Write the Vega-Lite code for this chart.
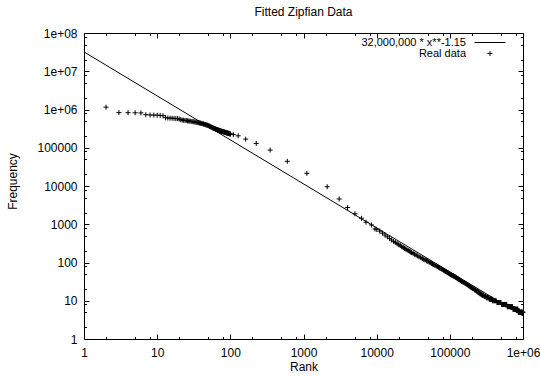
{
  "$schema": "https://vega.github.io/schema/vega-lite/v6.json",
  "width": 439,
  "height": 306,
  "autosize": {"type": "none"},
  "padding": {"left": 84, "top": 33, "right": 17, "bottom": 37},
  "background": "white",
  "title": {"text": "Fitted Zipfian Data", "font": "Liberation Sans", "fontSize": 12, "fontWeight": "normal", "color": "black", "anchor": "middle", "offset": 8},
  "config": {
    "view": {"stroke": null},
    "font": "Liberation Sans",
    "axis": {
      "grid": false,
      "domainColor": "black",
      "domainWidth": 1,
      "tickColor": "black",
      "tickWidth": 1,
      "labelColor": "black",
      "labelFont": "Liberation Sans",
      "labelFontSize": 12,
      "labelFlush": false,
      "labelOverlap": false,
      "labelBound": false,
      "titleColor": "black",
      "titleFont": "Liberation Sans",
      "titleFontSize": 12,
      "titleFontWeight": "normal"
    }
  },
  "datasets": {
    "fit": [
      {"x": 1, "y": 32000000},
      {"x": 1000000, "y": 4.03}
    ],
    "real": [
      {"x": 2, "y": 1150000}, {"x": 3, "y": 830000}, {"x": 4, "y": 825000}, {"x": 5, "y": 820000}, {"x": 6, "y": 815000},
      {"x": 7, "y": 730000}, {"x": 8, "y": 720000}, {"x": 9, "y": 715000}, {"x": 10, "y": 710000}, {"x": 11, "y": 700000},
      {"x": 12, "y": 690000}, {"x": 13, "y": 610000}, {"x": 14, "y": 600000}, {"x": 15, "y": 595000}, {"x": 16, "y": 590000},
      {"x": 17, "y": 585000}, {"x": 18, "y": 580000}, {"x": 19, "y": 575000}, {"x": 20, "y": 565000}, {"x": 21, "y": 540000},
      {"x": 22, "y": 530000}, {"x": 23, "y": 525000}, {"x": 24, "y": 520000}, {"x": 25, "y": 515000}, {"x": 26, "y": 505000},
      {"x": 27, "y": 500000}, {"x": 28, "y": 495000}, {"x": 29, "y": 490000}, {"x": 30, "y": 485000}, {"x": 31, "y": 480000},
      {"x": 32, "y": 475000}, {"x": 33, "y": 470000}, {"x": 34, "y": 465000}, {"x": 35, "y": 460000}, {"x": 36, "y": 455000},
      {"x": 37, "y": 450000}, {"x": 38, "y": 445000}, {"x": 39, "y": 440000}, {"x": 40, "y": 435000}, {"x": 41, "y": 430000},
      {"x": 42, "y": 424000}, {"x": 43, "y": 418000}, {"x": 44, "y": 412000}, {"x": 45, "y": 406000}, {"x": 46, "y": 400000},
      {"x": 47, "y": 395000}, {"x": 48, "y": 390000}, {"x": 49, "y": 385000}, {"x": 50, "y": 380000}, {"x": 51, "y": 372000},
      {"x": 52, "y": 365000}, {"x": 53, "y": 358000}, {"x": 54, "y": 352000}, {"x": 55, "y": 346000}, {"x": 56, "y": 340000},
      {"x": 57, "y": 335000}, {"x": 58, "y": 330000}, {"x": 59, "y": 325000}, {"x": 60, "y": 320000}, {"x": 61, "y": 316000},
      {"x": 62, "y": 312000}, {"x": 63, "y": 308000}, {"x": 64, "y": 304000}, {"x": 65, "y": 300000}, {"x": 66, "y": 297000},
      {"x": 67, "y": 294000}, {"x": 68, "y": 291000}, {"x": 69, "y": 288000}, {"x": 70, "y": 285000}, {"x": 71, "y": 282000},
      {"x": 72, "y": 279000}, {"x": 73, "y": 276000}, {"x": 74, "y": 274000}, {"x": 75, "y": 272000}, {"x": 76, "y": 270000},
      {"x": 77, "y": 268000}, {"x": 78, "y": 266000}, {"x": 79, "y": 264000}, {"x": 80, "y": 262000}, {"x": 81, "y": 260000},
      {"x": 82, "y": 258000}, {"x": 83, "y": 256000}, {"x": 84, "y": 254000}, {"x": 85, "y": 252000}, {"x": 86, "y": 250000},
      {"x": 87, "y": 248500}, {"x": 88, "y": 247000}, {"x": 89, "y": 245500}, {"x": 90, "y": 244000}, {"x": 91, "y": 242500},
      {"x": 92, "y": 241000}, {"x": 93, "y": 239500}, {"x": 94, "y": 238000}, {"x": 95, "y": 236500}, {"x": 96, "y": 235000},
      {"x": 97, "y": 233500}, {"x": 98, "y": 232000}, {"x": 99, "y": 230500}, {"x": 100, "y": 229000},
      {"x": 110, "y": 220000}, {"x": 128, "y": 205000}, {"x": 162, "y": 168000}, {"x": 226, "y": 130000}, {"x": 350, "y": 87000},
      {"x": 600, "y": 44200}, {"x": 1112, "y": 21400}, {"x": 2108, "y": 9560}, {"x": 3077, "y": 4570}, {"x": 4000, "y": 2740},
      {"x": 5050, "y": 1877}, {"x": 6200, "y": 1430}, {"x": 7150, "y": 1132}, {"x": 8500, "y": 955}, {"x": 9500, "y": 751},
      {"x": 10000, "y": 740}, {"x": 11000, "y": 662}, {"x": 12000, "y": 586}, {"x": 13000, "y": 523}, {"x": 14000, "y": 469},
      {"x": 15000, "y": 423}, {"x": 16000, "y": 388}, {"x": 17000, "y": 358}, {"x": 18000, "y": 335}, {"x": 19000, "y": 311},
      {"x": 20000, "y": 293}, {"x": 21000, "y": 276}, {"x": 22000, "y": 260}, {"x": 23000, "y": 247}, {"x": 24000, "y": 235},
      {"x": 25000, "y": 224}, {"x": 26000, "y": 214}, {"x": 27000, "y": 205}, {"x": 28000, "y": 197}, {"x": 29000, "y": 189},
      {"x": 30000, "y": 182}, {"x": 31500, "y": 173}, {"x": 33000, "y": 165}, {"x": 34500, "y": 157}, {"x": 36000, "y": 149},
      {"x": 38000, "y": 141}, {"x": 40000, "y": 134}, {"x": 42000, "y": 127}, {"x": 44000, "y": 121}, {"x": 46000, "y": 116},
      {"x": 48000, "y": 111}, {"x": 50000, "y": 107}, {"x": 52000, "y": 103}, {"x": 54000, "y": 99}, {"x": 56000, "y": 95},
      {"x": 58000, "y": 91}, {"x": 60000, "y": 88}, {"x": 62500, "y": 84}, {"x": 65000, "y": 81}, {"x": 67500, "y": 78},
      {"x": 70000, "y": 75}, {"x": 72500, "y": 72}, {"x": 75000, "y": 70}, {"x": 77500, "y": 67}, {"x": 80000, "y": 65},
      {"x": 82500, "y": 62}, {"x": 85000, "y": 60}, {"x": 87500, "y": 58}, {"x": 90000, "y": 57}, {"x": 92500, "y": 55},
      {"x": 95000, "y": 53}, {"x": 97500, "y": 51}, {"x": 100000, "y": 50}, {"x": 102500, "y": 48}, {"x": 105000, "y": 47},
      {"x": 107500, "y": 46}, {"x": 110000, "y": 45}, {"x": 112500, "y": 44}, {"x": 115000, "y": 43}, {"x": 117500, "y": 42},
      {"x": 120000, "y": 41}, {"x": 122500, "y": 40}, {"x": 125000, "y": 39}, {"x": 127500, "y": 38}, {"x": 130000, "y": 37},
      {"x": 132500, "y": 36}, {"x": 135000, "y": 35}, {"x": 140000, "y": 34}, {"x": 142500, "y": 33},
      {"x": 145000, "y": 32}, {"x": 150000, "y": 31}, {"x": 155000, "y": 30}, {"x": 160000, "y": 29}, {"x": 165000, "y": 28},
      {"x": 170000, "y": 27}, {"x": 175000, "y": 26}, {"x": 180000, "y": 25}, {"x": 185000, "y": 24}, {"x": 190000, "y": 23},
      {"x": 195000, "y": 22}, {"x": 200000, "y": 22}, {"x": 205000, "y": 21}, {"x": 210000, "y": 21}, {"x": 215000, "y": 20},
      {"x": 220000, "y": 19}, {"x": 225000, "y": 19}, {"x": 230000, "y": 18},
      {"x": 235000, "y": 18}, {"x": 240000, "y": 17}, {"x": 245000, "y": 17}, {"x": 250000, "y": 16}, {"x": 255000, "y": 16},
      {"x": 260000, "y": 15}, {"x": 265000, "y": 15}, {"x": 270000, "y": 15}, {"x": 275000, "y": 14}, {"x": 280000, "y": 14},
      {"x": 285000, "y": 14}, {"x": 290000, "y": 14}, {"x": 295000, "y": 13}, {"x": 300000, "y": 13}, {"x": 305000, "y": 13},
      {"x": 310000, "y": 13}, {"x": 315000, "y": 12}, {"x": 320000, "y": 12}, {"x": 325000, "y": 12}, {"x": 330000, "y": 12},
      {"x": 335000, "y": 12}, {"x": 340000, "y": 12}, {"x": 345000, "y": 11}, {"x": 350000, "y": 11}, {"x": 355000, "y": 11},
      {"x": 360000, "y": 11}, {"x": 365000, "y": 11}, {"x": 370000, "y": 11}, {"x": 375000, "y": 11}, {"x": 380000, "y": 11},
      {"x": 385000, "y": 10}, {"x": 390000, "y": 10}, {"x": 400000, "y": 10}, {"x": 410000, "y": 10}, {"x": 420000, "y": 10},
      {"x": 430000, "y": 10}, {"x": 440000, "y": 9}, {"x": 450000, "y": 9}, {"x": 460000, "y": 9}, {"x": 470000, "y": 9},
      {"x": 480000, "y": 9}, {"x": 490000, "y": 9}, {"x": 500000, "y": 9}, {"x": 510000, "y": 8}, {"x": 520000, "y": 8},
      {"x": 530000, "y": 8}, {"x": 540000, "y": 8}, {"x": 550000, "y": 8}, {"x": 560000, "y": 8},
      {"x": 570000, "y": 8}, {"x": 580000, "y": 8}, {"x": 590000, "y": 8}, {"x": 600000, "y": 8}, {"x": 610000, "y": 7},
      {"x": 620000, "y": 7}, {"x": 630000, "y": 7}, {"x": 640000, "y": 7}, {"x": 650000, "y": 7}, {"x": 660000, "y": 7},
      {"x": 670000, "y": 7}, {"x": 680000, "y": 7}, {"x": 690000, "y": 7}, {"x": 700000, "y": 7}, {"x": 710000, "y": 7},
      {"x": 720000, "y": 7}, {"x": 730000, "y": 6}, {"x": 740000, "y": 6}, {"x": 750000, "y": 6}, {"x": 760000, "y": 6},
      {"x": 770000, "y": 6}, {"x": 780000, "y": 6}, {"x": 790000, "y": 6}, {"x": 800000, "y": 6}, {"x": 810000, "y": 6},
      {"x": 820000, "y": 6}, {"x": 830000, "y": 6}, {"x": 840000, "y": 6}, {"x": 850000, "y": 6}, {"x": 860000, "y": 5},
      {"x": 870000, "y": 5}, {"x": 880000, "y": 5}, {"x": 890000, "y": 5}, {"x": 900000, "y": 5}, {"x": 910000, "y": 5},
      {"x": 920000, "y": 5}, {"x": 930000, "y": 5}, {"x": 940000, "y": 5}, {"x": 950000, "y": 5}, {"x": 960000, "y": 5},
      {"x": 970000, "y": 5}, {"x": 980000, "y": 5}, {"x": 990000, "y": 5}, {"x": 1000000, "y": 5}
    ]
  },
  "layer": [
    {
      "data": {"name": "fit"},
      "mark": {"type": "line", "color": "black", "strokeWidth": 1},
      "encoding": {
        "x": {
          "field": "x", "type": "quantitative",
          "scale": {"type": "log", "domain": [1, 1000000], "nice": false},
          "axis": {
            "orient": "bottom",
            "title": "Rank",
            "titleBaseline": "middle",
            "titleY": 27,
            "values": [1, 2, 5, 8, 10, 20, 50, 80, 100, 200, 500, 800, 1000, 2000, 5000, 8000, 10000, 20000, 50000, 80000, 100000, 200000, 500000, 800000, 1000000],
            "labelExpr": "abs(log(datum.value)/LN10 - round(log(datum.value)/LN10)) > 0.000001 ? '' : (datum.value >= 1000000 ? '1e+0' + round(log(datum.value)/LN10) : format(datum.value, 'd'))",
            "tickSize": {"condition": {"test": "abs(log(datum.value)/LN10 - round(log(datum.value)/LN10)) < 0.000001", "value": -5}, "value": -2.5},
            "labelPadding": 13
          }
        },
        "y": {
          "field": "y", "type": "quantitative",
          "scale": {"type": "log", "domain": [1, 100000000], "nice": false},
          "axis": {
            "orient": "left",
            "title": "Frequency",
            "titleBaseline": "middle",
            "titleX": -72,
            "titleY": 148,
            "values": [1, 2, 5, 8, 10, 20, 50, 80, 100, 200, 500, 800, 1000, 2000, 5000, 8000, 10000, 20000, 50000, 80000, 100000, 200000, 500000, 800000, 1000000, 2000000, 5000000, 8000000, 10000000, 20000000, 50000000, 80000000, 100000000],
            "labelExpr": "abs(log(datum.value)/LN10 - round(log(datum.value)/LN10)) > 0.000001 ? '' : (datum.value >= 1000000 ? '1e+0' + round(log(datum.value)/LN10) : format(datum.value, 'd'))",
            "tickSize": {"condition": {"test": "abs(log(datum.value)/LN10 - round(log(datum.value)/LN10)) < 0.000001", "value": -5}, "value": -2.5},
            "labelPadding": 12
          }
        }
      }
    },
    {
      "data": {"name": "real"},
      "mark": {"type": "point", "color": "black", "filled": false, "strokeWidth": 1, "size": 25, "opacity": 1},
      "encoding": {
        "x": {
          "field": "x", "type": "quantitative",
          "scale": {"type": "log", "domain": [1, 1000000], "nice": false},
          "axis": {
            "orient": "top",
            "title": null,
            "labels": false,
            "values": [1, 2, 5, 8, 10, 20, 50, 80, 100, 200, 500, 800, 1000, 2000, 5000, 8000, 10000, 20000, 50000, 80000, 100000, 200000, 500000, 800000, 1000000],
            "tickSize": {"condition": {"test": "abs(log(datum.value)/LN10 - round(log(datum.value)/LN10)) < 0.000001", "value": -5}, "value": -2.5}
          }
        },
        "y": {
          "field": "y", "type": "quantitative",
          "scale": {"type": "log", "domain": [1, 100000000], "nice": false},
          "axis": {
            "orient": "right",
            "title": null,
            "labels": false,
            "values": [1, 2, 5, 8, 10, 20, 50, 80, 100, 200, 500, 800, 1000, 2000, 5000, 8000, 10000, 20000, 50000, 80000, 100000, 200000, 500000, 800000, 1000000, 2000000, 5000000, 8000000, 10000000, 20000000, 50000000, 80000000, 100000000],
            "tickSize": {"condition": {"test": "abs(log(datum.value)/LN10 - round(log(datum.value)/LN10)) < 0.000001", "value": -5}, "value": -2.5}
          }
        },
        "shape": {
          "datum": "Real data",
          "scale": {"domain": ["32,000,000 * x**-1.15", "Real data"], "range": ["M-6.2,0H6.2", "M-1,0H1M0,-1V1"]},
          "legend": {
            "title": null,
            "orient": "none",
            "legendX": 400.5,
            "legendY": 4,
            "padding": 0,
            "rowPadding": -1,
            "symbolSize": 25,
            "symbolStrokeWidth": 1,
            "symbolOffset": 0,
            "labelAlign": "right",
            "labelOffset": -29.5,
            "labelFont": "Liberation Sans",
            "labelFontSize": 11,
            "labelColor": "black"
          }
        }
      }
    }
  ],
  "resolve": {"axis": {"x": "independent", "y": "independent"}}
}
